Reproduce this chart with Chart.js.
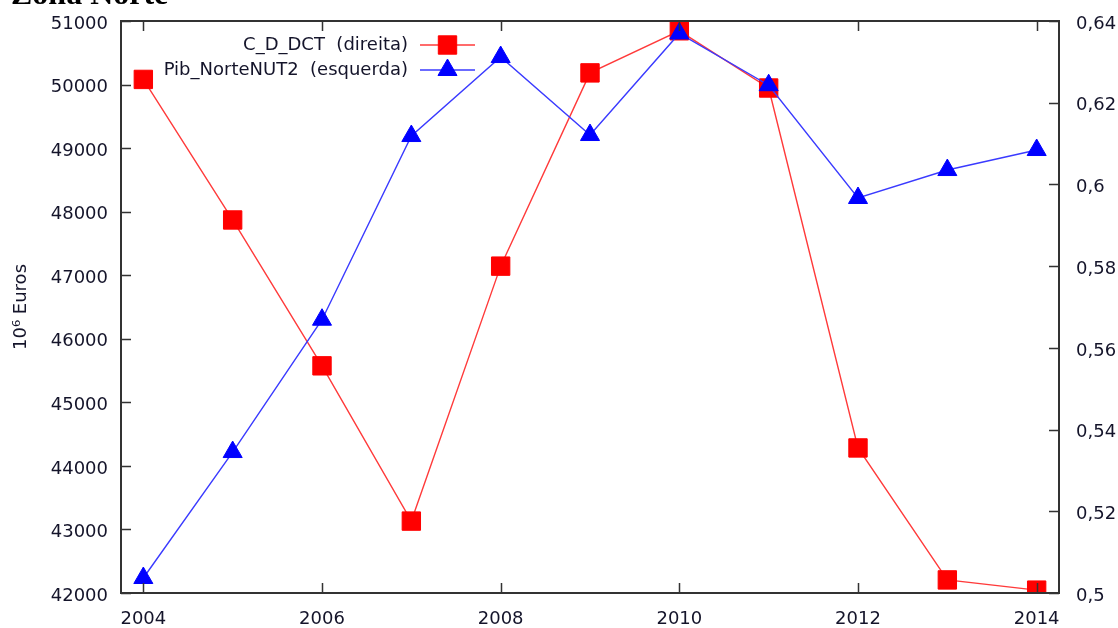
<!DOCTYPE html>
<html lang="pt">
<head>
<meta charset="utf-8">
<title>Zona Norte</title>
<script src="https://cdn.jsdelivr.net/npm/chart.js@4/dist/chart.umd.min.js"></script>
<style>
  html, body { margin: 0; padding: 0; background: #fff; }
  #wrap { position: relative; width: 1118px; height: 628px; overflow: hidden; }
  canvas { display: block; }
</style>
</head>
<body>
<div id="wrap"><canvas id="chart" width="1118" height="628"></canvas></div>
<script>
// Anos e séries
const years = [2004, 2005, 2006, 2007, 2008, 2009, 2010, 2011, 2012, 2013, 2014];
const cdDct = [0.6257, 0.5913, 0.5556, 0.5176, 0.5800, 0.6273, 0.6376, 0.6236, 0.5355, 0.5032, 0.5007];
const pibNorte = [42236, 44218, 46300, 49190, 50433, 49206, 50804, 49990, 48215, 48655, 48970];

// Marcas dos eixos
const xTicks = [2004, 2006, 2008, 2010, 2012, 2014];
const leftTicks = [42000, 43000, 44000, 45000, 46000, 47000, 48000, 49000, 50000, 51000];
const rightTicks = [0.5, 0.52, 0.54, 0.56, 0.58, 0.6, 0.62, 0.64];

const chartTitle = 'Zona Norte';
const yTitle = '10\u2076 Euros';
const labelCdDct = 'C_D_DCT  (direita)';
const labelPib = 'Pib_NorteNUT2  (esquerda)';

const FONT = '"DejaVu Sans", Verdana, sans-serif';
const FSIZE = 18;
const TEXT = '#14142a';
const FRAME = '#333333';

const toPoints = vals => years.map((y, i) => ({ x: y, y: vals[i] }));
const fixTicks = arr => scale => { scale.ticks = arr.map(v => ({ value: v })); };
const fitV = w => s => { s.width = w; s.paddingTop = 0; s.paddingBottom = 0; };

// Moldura e marcas interiores, ao estilo gnuplot
const framePlugin = {
  id: 'frame',
  afterDatasetsDraw(chart) {
    const { ctx, chartArea: a, scales } = chart;
    const len = 10;
    ctx.save();
    ctx.strokeStyle = FRAME;
    ctx.lineWidth = 1.5;
    ctx.beginPath();
    scales.x.ticks.forEach(t => {
      const px = Math.round(scales.x.getPixelForValue(t.value)) + 0.5;
      ctx.moveTo(px, a.bottom); ctx.lineTo(px, a.bottom - len);
      ctx.moveTo(px, a.top); ctx.lineTo(px, a.top + len);
    });
    scales.y.ticks.forEach(t => {
      const py = Math.round(scales.y.getPixelForValue(t.value)) + 0.5;
      ctx.moveTo(a.left, py); ctx.lineTo(a.left + len, py);
    });
    scales.y2.ticks.forEach(t => {
      const py = Math.round(scales.y2.getPixelForValue(t.value)) + 0.5;
      ctx.moveTo(a.right, py); ctx.lineTo(a.right - len, py);
    });
    ctx.stroke();
    ctx.lineWidth = 2;
    ctx.strokeRect(a.left, a.top, a.right - a.left, a.bottom - a.top);
    ctx.restore();
  }
};

// Legenda com texto à esquerda e amostra à direita
const keyPlugin = {
  id: 'key',
  afterDraw(chart) {
    const { ctx } = chart;
    const textRight = 408, lineL = 420, lineR = 475, rowTop = 45, rowGap = 25;
    const order = [1, 0];
    ctx.save();
    ctx.font = FSIZE + 'px ' + FONT;
    ctx.textAlign = 'right';
    ctx.textBaseline = 'middle';
    order.forEach((di, row) => {
      const ds = chart.data.datasets[di];
      const y = rowTop + row * rowGap;
      ctx.fillStyle = TEXT;
      ctx.fillText(ds.label, textRight, y);
      ctx.strokeStyle = ds.borderColor;
      ctx.lineWidth = ds.borderWidth;
      ctx.beginPath();
      ctx.moveTo(lineL, y); ctx.lineTo(lineR, y);
      ctx.stroke();
      ctx.fillStyle = ds.pointBackgroundColor;
      ctx.strokeStyle = ds.pointBorderColor;
      ctx.lineWidth = ds.pointBorderWidth;
      Chart.helpers.drawPoint(ctx, {
        pointStyle: ds.pointStyle, radius: ds.pointRadius, borderWidth: ds.pointBorderWidth, rotation: 0
      }, (lineL + lineR) / 2, y);
    });
    // título parcialmente visível no topo
    ctx.font = 'bold 32px "Liberation Serif", "Times New Roman", serif';
    ctx.textAlign = 'left';
    ctx.textBaseline = 'alphabetic';
    ctx.fillStyle = '#000';
    ctx.fillText(chartTitle, 11, 4);
    ctx.restore();
  }
};

new Chart(document.getElementById('chart'), {
  type: 'line',
  data: {
    datasets: [
      {
        label: labelPib,
        data: toPoints(pibNorte),
        yAxisID: 'y',
        order: 0,
        borderColor: '#3a3aff',
        borderWidth: 1.4,
        pointStyle: 'triangle',
        pointRadius: 11,
        pointBackgroundColor: '#0000ff',
        pointBorderColor: '#0000ff',
        pointBorderWidth: 1,
        tension: 0
      },
      {
        label: labelCdDct,
        data: toPoints(cdDct),
        yAxisID: 'y2',
        order: 1,
        borderColor: '#ff3a3a',
        borderWidth: 1.4,
        pointStyle: 'rect',
        pointRadius: 13,
        pointBackgroundColor: '#ff0000',
        pointBorderColor: '#ff0000',
        pointBorderWidth: 1,
        tension: 0
      }
    ]
  },
  options: {
    responsive: false,
    animation: false,
    events: [],
    layout: { padding: { top: 21, left: 0, right: 0, bottom: 0 } },
    plugins: { legend: { display: false }, tooltip: { enabled: false }, title: { display: false } },
    scales: {
      x: {
        type: 'linear',
        min: 2003.75,
        max: 2014.25,
        afterBuildTicks: fixTicks(xTicks),
        afterFit: s => { s.height = 35; s.paddingLeft = 0; s.paddingRight = 0; },
        grid: { display: false, drawTicks: false },
        border: { display: false },
        ticks: {
          padding: 16,
          color: TEXT,
          font: { family: FONT, size: FSIZE },
          callback: v => String(v),
          maxRotation: 0,
          autoSkip: false
        }
      },
      y: {
        type: 'linear',
        position: 'left',
        min: 42000,
        max: 51000,
        afterBuildTicks: fixTicks(leftTicks),
        afterFit: fitV(121),
        grid: { display: false, drawTicks: false },
        border: { display: false },
        title: {
          display: true,
          text: yTitle,
          color: TEXT,
          font: { family: FONT, size: FSIZE },
          padding: { top: 11, bottom: 0 }
        },
        ticks: {
          padding: 13,
          labelOffset: 3,
          color: TEXT,
          font: { family: FONT, size: FSIZE },
          callback: v => String(v),
          autoSkip: false
        }
      },
      y2: {
        type: 'linear',
        position: 'right',
        min: 0.5,
        max: 0.64,
        afterBuildTicks: fixTicks(rightTicks),
        afterFit: fitV(59),
        grid: { display: false, drawTicks: false },
        border: { display: false },
        ticks: {
          padding: 17,
          labelOffset: 3,
          color: TEXT,
          font: { family: FONT, size: FSIZE },
          callback: v => String(Math.round(v * 100) / 100).replace('.', ','),
          autoSkip: false
        }
      }
    }
  },
  plugins: [framePlugin, keyPlugin]
});
</script>
</body>
</html>
